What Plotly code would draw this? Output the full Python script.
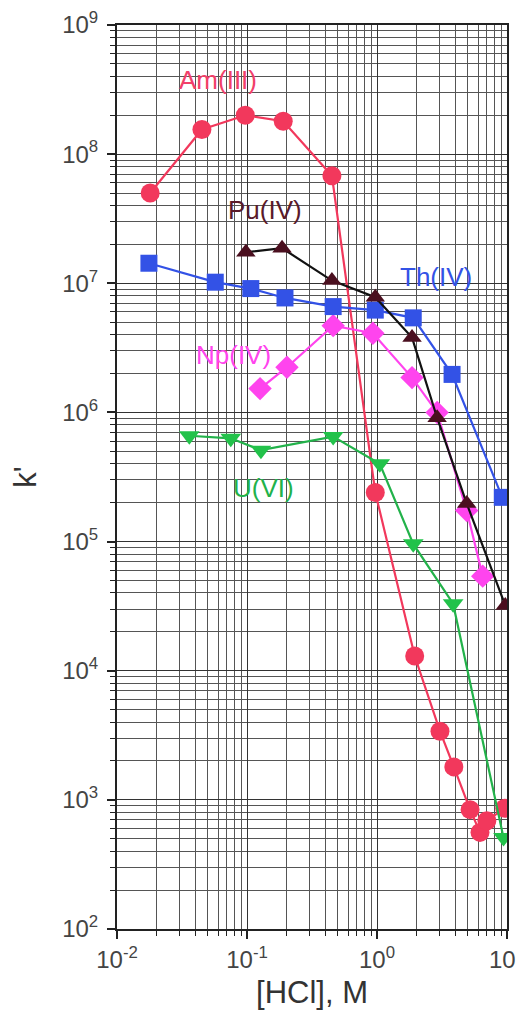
import plotly.graph_objects as go
import math

# ---- data ----
am_x = [0.018, 0.045, 0.097, 0.19, 0.45, 0.97, 1.95, 3.05, 3.9, 5.2, 6.2, 7.0, 9.6]
am_y = [5.0e7, 1.55e8, 2.0e8, 1.8e8, 6.8e7, 2.4e5, 1.3e4, 3.4e3, 1.8e3, 840, 560, 690, 860]

pu_x = [0.098, 0.186, 0.45, 0.97, 1.86, 2.9, 4.9, 9.7]
pu_y = [1.74e7, 1.87e7, 1.05e7, 7.8e6, 3.8e6, 9.1e5, 1.97e5, 3.2e4]

th_x = [0.0176, 0.057, 0.107, 0.196, 0.46, 0.97, 1.9, 3.78, 9.2]
th_y = [1.43e7, 1.02e7, 9.1e6, 7.7e6, 6.6e6, 6.2e6, 5.4e6, 1.97e6, 2.2e5]

np_x = [0.126, 0.203, 0.46, 0.93, 1.86, 2.9, 4.9, 6.5]
np_y = [1.53e6, 2.24e6, 4.7e6, 4.1e6, 1.86e6, 1.0e6, 1.74e5, 5.4e4]

u_x = [0.036, 0.075, 0.128, 0.46, 1.05, 1.9, 3.85, 9.4]
u_y = [6.6e5, 6.3e5, 5.1e5, 6.5e5, 4.0e5, 9.6e4, 3.3e4, 5.1e2]

label_text = ["Am(III)", "Pu(IV)", "Th(IV)", "Np(IV)", "U(VI)"]
label_x = [0.060, 0.137, 2.84, 0.079, 0.135]
label_y = [3.75e8, 3.68e7, 1.11e7, 2.77e6, 2.6e5]
label_color = ["#F2406A", "#5A1A2A", "#3352E6", "#FF44EE", "#22B24A"]

x_decades = [-2, -1, 0, 1]
y_decades = [2, 3, 4, 5, 6, 7, 8, 9]
x_ticks = [10.0 ** e for e in x_decades]
x_ticktext = ["10<sup>%d</sup>" % e for e in x_decades]
y_ticks = [10.0 ** e for e in y_decades]
y_ticktext = ["10<sup>%d</sup>" % e for e in y_decades]
x_minor = [m * 10.0 ** e for e in x_decades[:-1] for m in range(2, 10)]
y_minor = [m * 10.0 ** e for e in y_decades[:-1] for m in range(2, 10)]

FONT = "Liberation Sans"

fig = go.Figure()

series = [
    (am_x, am_y, "#F2385C", "#F2385C", "circle", 19),
    (u_x, u_y, "#22B24A", "#22C24A", "triangle-down", 18),
    (np_x, np_y, "#FF44EE", "#FF44EE", "diamond", 18),
    (th_x, th_y, "#3352E6", "#3352E6", "square", 17),
    (pu_x, pu_y, "#111111", "#4A0F1F", "triangle-up", 17),
]
for xs, ys, lc, mc, sym, sz in series:
    fig.add_trace(go.Scatter(
        x=xs, y=ys, mode="lines+markers",
        line=dict(color=lc, width=2.2),
        marker=dict(color=mc, symbol=sym, size=sz, line=dict(width=0)),
        showlegend=False,
    ))

for t, x, y, c in zip(label_text, label_x, label_y, label_color):
    fig.add_annotation(x=math.log10(x), y=math.log10(y), text=t, showarrow=False,
                       font=dict(family=FONT, size=26, color=c),
                       xref="x", yref="y")

def axis_common(minor_vals):
    return dict(
        type="log", automargin=False, ticklabeloverflow="allow",
        showline=True, linecolor="#222", linewidth=2, mirror=True,
        ticks="outside", ticklen=8, tickwidth=2, tickcolor="#222",
        showgrid=True, gridcolor="#333", gridwidth=1.3,
        minor=dict(tickmode="array", tickvals=minor_vals,
                   showgrid=True, gridcolor="#555", gridwidth=1,
                   ticks="outside", ticklen=5, tickcolor="#222", tickwidth=1.2),
        zeroline=False,
        tickfont=dict(family=FONT, size=24, color="#444"),
    )

fig.update_xaxes(range=[-2, 1], tickmode="array", tickvals=x_ticks, ticktext=x_ticktext,
                 title=dict(text="[HCl], M", font=dict(family=FONT, size=31, color="#333"), standoff=10),
                 **axis_common(x_minor))
fig.update_yaxes(range=[2, 9], tickmode="array", tickvals=y_ticks, ticktext=y_ticktext,
                 ticklabelstandoff=4,
                 title=dict(text="k'", font=dict(family=FONT, size=31, color="#333"), standoff=30),
                 **axis_common(y_minor))

# page body has an 8px default margin, so the figure is sized/offset to compensate
fig.update_layout(
    width=516, height=1017,
    margin=dict(l=109, r=17, t=17, b=96),
    paper_bgcolor="white", plot_bgcolor="white",
)

fig.write_html("out.html")
